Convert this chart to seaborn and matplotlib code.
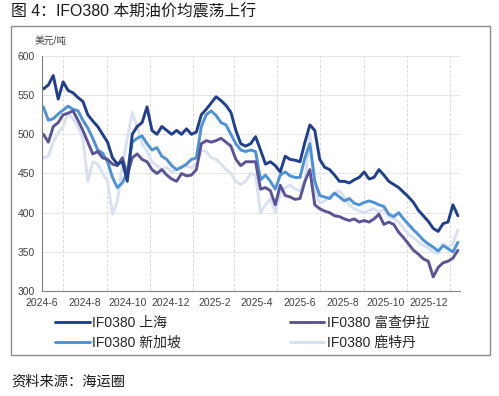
import numpy as np
import pandas as pd
import matplotlib
matplotlib.use("Agg")
import matplotlib.pyplot as plt
import matplotlib.dates as mdates
from matplotlib.patches import Rectangle
from matplotlib.lines import Line2D
import seaborn as sns

# ---------------- data (weekly readings, USD/t) ----------------
start_date = "2024-06-03"
n_weeks = 85

shanghai = [558, 563, 575, 545, 567, 556, 553, 547, 542, 525,
            517, 510, 500, 490, 470, 462, 465, 440, 500, 510,
            515, 535, 505, 500, 510, 505, 500, 505, 500, 507,
            500, 503, 525, 532, 540, 548, 543, 537, 528, 505,
            488, 485, 488, 497, 480, 462, 465, 460, 452, 472,
            468, 467, 465, 490, 512, 505, 468, 458, 455, 448,
            440, 440, 438, 442, 445, 452, 443, 445, 455, 448,
            440, 436, 432, 426, 420, 413, 403, 396, 389, 380,
            376, 386, 388, 410, 396]

fujairah = [500, 490, 510, 515, 525, 527, 530, 518, 505, 490,
            475, 478, 470, 468, 462, 460, 470, 448, 470, 475,
            468, 465, 455, 450, 455, 448, 443, 440, 450, 447,
            448, 455, 488, 492, 490, 492, 495, 490, 485, 468,
            460, 465, 465, 465, 430, 432, 428, 410, 435, 422,
            420, 417, 418, 440, 455, 410, 405, 402, 400, 396,
            395, 392, 390, 392, 388, 390, 388, 392, 398, 385,
            388, 385, 375, 368, 360, 352, 347, 341, 338, 318,
            330, 336, 338, 342, 352]

singapore = [535, 518, 520, 526, 531, 536, 532, 530, 518, 508,
             495, 480, 476, 465, 445, 432, 438, 452, 490, 495,
             498, 488, 480, 483, 472, 468, 460, 455, 458, 462,
             468, 470, 510, 525, 530, 524, 515, 512, 500, 488,
             480, 478, 480, 478, 442, 448, 440, 430, 448, 452,
             447, 445, 445, 470, 488, 440, 422, 420, 418, 425,
             420, 415, 418, 412, 410, 413, 415, 413, 410, 408,
             398, 395, 400, 392, 385, 378, 372, 365, 360, 356,
             351, 358, 354, 350, 362]

rotterdam = [470, 472, 490, 502, 510, 527, 520, 510, 495, 440,
             465, 462, 450, 440, 398, 415, 460, 495, 528, 510,
             488, 478, 465, 460, 455, 458, 452, 455, 458, 460,
             457, 462, 480, 478, 470, 468, 462, 455, 450, 440,
             436, 440, 450, 448, 400, 410, 418, 400, 425, 432,
             435, 430, 428, 440, 500, 430, 412, 415, 420, 425,
             428, 420, 410, 405, 402, 400, 403, 405, 400, 405,
             395, 392, 388, 380, 372, 368, 362, 358, 355, 350,
             348, 360, 356, 360, 378]

series_names = ["IF0380 上海", "IF0380 富查伊拉", "IF0380 新加坡", "IF0380 鹿特丹"]
series_colors = ["#1f3f8c", "#5a5497", "#4d91d6", "#d9e1f1"]

yticks = [300, 350, 400, 450, 500, 550, 600]

dates = pd.date_range(start_date, periods=n_weeks, freq="7D")
frames = []
for name, vals in zip(series_names, [shanghai, fujairah, singapore, rotterdam]):
    frames.append(pd.DataFrame({"date": dates, "price": vals, "series": name}))
df = pd.concat(frames, ignore_index=True)

# ---------------- figure ----------------
sns.set_theme(style="white")
plt.rcParams["font.family"] = ["Liberation Sans", "Noto Sans CJK SC", "DejaVu Sans"]

W, H = 499, 396
fig = plt.figure(figsize=(W / 100, H / 100), dpi=100)
ax = fig.add_axes([42 / W, 1 - 291 / H, (460 - 42) / W, (291 - 56) / H])

order = ["IF0380 鹿特丹", "IF0380 新加坡", "IF0380 富查伊拉", "IF0380 上海"]
pal = dict(zip(series_names, series_colors))
for name in order:
    sns.lineplot(data=df[df["series"] == name], x="date", y="price",
                 color=pal[name], lw=2.1, ax=ax, legend=False)

ax.set_ylim(300, 600)
ax.set_yticks(yticks)
ax.set_xlim(pd.Timestamp("2024-06-01"), pd.Timestamp("2026-01-15"))
ax.set_xlabel("")
ax.set_ylabel("")

ax.xaxis.set_major_locator(mdates.MonthLocator(bymonth=[2, 4, 6, 8, 10, 12]))
ax.xaxis.set_minor_locator(mdates.MonthLocator())
ax.xaxis.set_major_formatter(
    matplotlib.ticker.FuncFormatter(lambda v, p: f"{mdates.num2date(v).year}-{mdates.num2date(v).month}"))

ax.grid(False)
ax.xaxis.grid(True, which="minor", color="#d9d9d9", lw=0.7, ls=(0, (3, 2)))
ax.yaxis.grid(True, which="major", color="#e6e6e6", lw=0.7)
ax.set_axisbelow(True)

for s in ["top", "right"]:
    ax.spines[s].set_visible(False)
for s in ["left", "bottom"]:
    ax.spines[s].set_color("#808080")
    ax.spines[s].set_linewidth(0.8)

ax.tick_params(axis="both", which="major", labelsize=7.5, colors="#404040",
               length=3, width=0.7, direction="out", pad=2)
ax.tick_params(axis="x", which="minor", length=3, width=0.7, color="#808080")
ax.tick_params(axis="x", which="major", color="#808080")
ax.tick_params(axis="y", which="major", color="#808080")
for lab in ax.get_xticklabels() + ax.get_yticklabels():
    lab.set_color("#404040")

# unit label
fig.text(35 / W, 1 - 41 / H, "美元/吨", fontsize=7, color="#404040", va="center")

# outer frame
fig.patches.append(Rectangle((11 / W, 1 - 355 / H), 479 / W, 329 / H,
                             transform=fig.transFigure, fill=False,
                             edgecolor="#8c8c8c", lw=1.0))

# title and source
fig.text(11 / W, 1 - 12 / H, "图 4：IFO380 本期油价均震荡上行", fontsize=11.4,
         color="#1a1a1a", va="center", ha="left")
fig.text(11 / W, 1 - 382 / H, "资料来源：海运圈", fontsize=10.3,
         color="#1a1a1a", va="center", ha="left")

# legend (2 columns, filled column-wise)
leg_order = ["IF0380 上海", "IF0380 新加坡", "IF0380 富查伊拉", "IF0380 鹿特丹"]
handles = [Line2D([0], [0], color=pal[n], lw=2.1) for n in leg_order]
leg = fig.legend(handles, leg_order, ncol=2, loc="center left",
                 bbox_to_anchor=(55 / W, 1 - 333 / H), frameon=False,
                 borderpad=0, borderaxespad=0,
                 fontsize=10, handlelength=2.5, handletextpad=0.2,
                 columnspacing=7.8, labelspacing=0.45)
for t in leg.get_texts():
    t.set_color("#262626")

fig.savefig("out.png", dpi=100)
